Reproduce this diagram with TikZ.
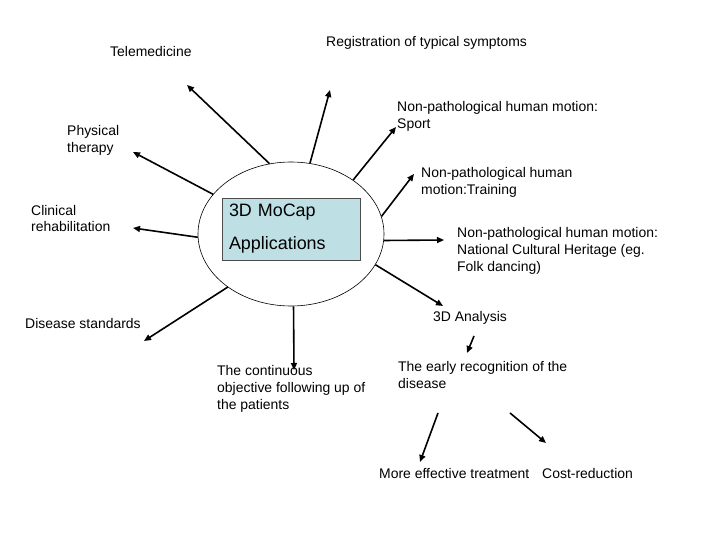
\documentclass[tikz,border=0pt]{standalone}
\usepackage{fontspec}
\setmainfont{Liberation Sans}
\usetikzlibrary{arrows.meta,shapes.geometric}
\definecolor{mocapblue}{RGB}{190,224,228}

\begin{document}
\begin{tikzpicture}[
  x=1bp, y=-1bp,
  lbl/.style={font=\fontsize{14}{17}\selectfont, align=left, inner sep=0pt, anchor=west},
  hub/.style={draw, ellipse, line width=0.6bp, minimum width=186bp, minimum height=144bp, inner sep=0pt},
  core/.style={draw=black!70, line width=0.8bp, fill=mocapblue, align=left,
               font=\fontsize{18}{33}\selectfont, text width=124bp, inner xsep=7bp,
               minimum height=62bp},
  arr/.style={-{Triangle[length=7bp, width=6bp]}, line width=1.6bp},
]
\useasboundingbox (0,0) rectangle (720,540);

% centre
\node[hub] (hub) at (291,234) {};
\node[core] (mocap) at (291,229) {3D MoCap\\Applications};

% labels round the hub
\node[lbl] (telemed) at (110,52) {Telemedicine};
\node[lbl] (symptoms) at (326,43) {Registration of typical symptoms};
\node[lbl] (sport) at (397,116.5) {Non-pathological human motion:\\Sport};
\node[lbl] (physio) at (67,140.5) {Physical\\therapy};
\node[lbl] (training) at (421,182.5) {Non-pathological human\\motion:Training};
\node[lbl] (clinical) at (31,218.5) {Clinical\\rehabilitation};
\node[lbl] (heritage) at (457,251) {Non-pathological human motion:\\National Cultural Heritage (eg.\\Folk dancing)};
\node[lbl] (analysis) at (433,318) {3D Analysis};
\node[lbl] (standards) at (25,324) {Disease standards};
\node[lbl] (followup) at (217,389) {The continuous\\objective following up of\\the patients};
\node[lbl] (early) at (398,375) {The early recognition of the\\disease};
\node[lbl] (treatment) at (379,474) {More effective treatment};
\node[lbl] (cost) at (542,474) {Cost-reduction};

% arrow ends
\coordinate (telemed-tip) at (187,85);
\coordinate (symptoms-tip) at (330,90);
\coordinate (sport-tip) at (396,127);
\coordinate (physio-tip) at (133,152);
\coordinate (training-tip) at (414,174);
\coordinate (clinical-tip) at (133,228);
\coordinate (heritage-tip) at (444,240);
\coordinate (analysis-tip) at (443,306);
\coordinate (standards-tip) at (144,341);
\coordinate (followup-tip) at (294,370);
\coordinate (early-tail) at (474,336);
\coordinate (early-tip) at (467,353);
\coordinate (treatment-tail) at (438,413);
\coordinate (treatment-tip) at (420,462);
\coordinate (cost-tail) at (510,413);
\coordinate (cost-tip) at (546,443);

\draw[arr] (hub.107) -- (telemed-tip);
\draw[arr] (hub.75) -- (symptoms-tip);
\draw[arr] (hub.41) -- (sport-tip);
\draw[arr] (hub.153) -- (physio-tip);
\draw[arr] (hub.11) -- (training-tip);
\draw[arr] (hub.182) -- (clinical-tip);
\draw[arr] (hub.-4) -- (heritage-tip);
\draw[arr] (hub.-20) -- (analysis-tip);
\draw[arr] (hub.220) -- (standards-tip);
\draw[arr] (hub.-88) -- (followup-tip);
\draw[arr] (early-tail) -- (early-tip);
\draw[arr] (treatment-tail) -- (treatment-tip);
\draw[arr] (cost-tail) -- (cost-tip);
\end{tikzpicture}
\end{document}
